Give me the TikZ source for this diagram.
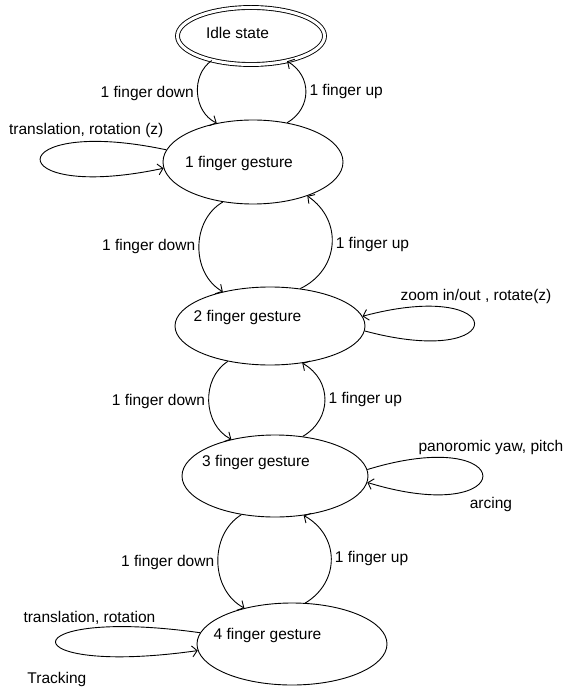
\documentclass[tikz,border=0pt]{standalone}
\usepackage{fontspec}
\setmainfont{Liberation Sans}
\usepackage{tikz}
\usetikzlibrary{arrows.meta,shapes.geometric}

\begin{document}
\begin{tikzpicture}[>={Straight Barb[length=5pt,width=11pt]},x=1pt,y=1pt,line width=0.9pt,
    font=\fontsize{15.5}{18}\selectfont,
    gesture/.style={ellipse,draw,inner sep=0pt},
    fdown/.style={bend right=60,looseness=1.05},
    fup/.style={bend right=60,looseness=1.2}]
  \useasboundingbox (0,0) rectangle (568,-692);
  \node[gesture,double,double distance=3pt,minimum width=147pt,minimum height=57pt,
        label={[shift={(-13.5,3)}]center:Idle state}] (idle) at (251,-36) {};
  \node[gesture,minimum width=180pt,minimum height=84pt,
        label={[shift={(-14,-1)}]center:1 finger gesture}]
        (g1) [node distance=126pt,below of=idle,xshift=2pt] {};
  \node[gesture,minimum width=190pt,minimum height=78pt,
        label={[shift={(-22.5,9)}]center:2 finger gesture}]
        (g2) [node distance=164pt,below of=g1,xshift=17pt] {};
  \node[gesture,minimum width=186pt,minimum height=82pt,
        label={[shift={(-19,14)}]center:3 finger gesture}]
        (g3) [node distance=150pt,below of=g2,xshift=5pt] {};
  \node[gesture,minimum width=190pt,minimum height=82pt,
        label={[shift={(-24.5,9)}]center:4 finger gesture}]
        (g4) [node distance=168pt,below of=g3,xshift=17pt] {};

  \path[->] (idle.212) edge[fdown] node[left] {1 finger down} (g1.133)
        (g1.49) edge[fup] node[right] {1 finger up} (idle.325)
        (g1.233) edge[fdown] node[left] {1 finger down} (g2.144)
        (g2.51) edge[fup] node[right] {1 finger up} (g1.328)
        (g2.220) edge[fdown] node[left] {1 finger down} (g3.140)
        (g3.55) edge[fup] node[right] {1 finger up} (g2.311)
        (g3.229) edge[fdown] node[left] {1 finger down} (g4.143)
        (g4.72) edge[fup] node[right] {1 finger up} (g3.306);

  % self loops
  \path[->] (g1.172) edge[out=168,in=192,min distance=170pt]
              node[pos=0.2,above] {translation, rotation (z)} (g1.184)
        (g2.357) edge[out=-15,in=15,min distance=153pt]
              node[pos=0.75,above,xshift=30pt] {zoom in/out , rotate(z)} (g2.6)
        (g3.4) edge[out=17,in=-17,min distance=161pt]
              node[pos=0.25,above,xshift=37pt] {panoromic yaw, pitch}
              node[pos=0.75,below,xshift=37pt] {arcing} (g3.356)
        (g4.173) edge[out=172,in=188,min distance=193pt]
              node[pos=0.26,above] {translation, rotation}
              node[pos=0.55,below=23pt] {Tracking} (g4.184);
\end{tikzpicture}
\end{document}
